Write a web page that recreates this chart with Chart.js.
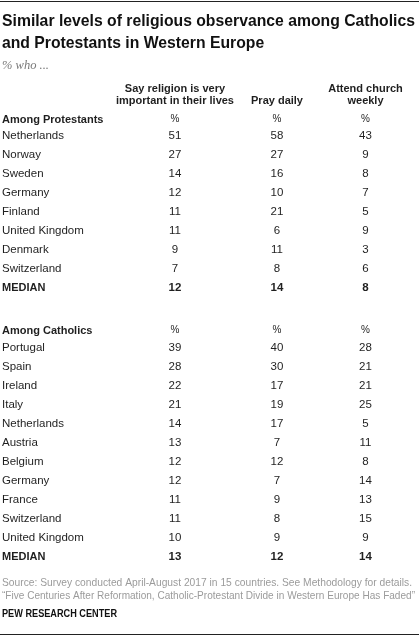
<!DOCTYPE html>
<html>
<head>
<meta charset="utf-8">
<script src="https://cdn.jsdelivr.net/npm/chart.js@4.4.1/dist/chart.umd.min.js"></script>
<style>
  html, body { margin: 0; padding: 0; background: #fff; }
  #wrap { position: relative; width: 419px; height: 637px; }
</style>
</head>
<body>
<div id="wrap"><canvas id="table"></canvas></div>
<script>
// data
const protCountries = ['Netherlands', 'Norway', 'Sweden', 'Germany', 'Finland', 'United Kingdom', 'Denmark', 'Switzerland'];
const protImportant = [51, 27, 14, 12, 11, 11, 9, 7];
const protPray = [58, 27, 16, 10, 21, 6, 11, 8];
const protAttend = [43, 9, 8, 7, 5, 9, 3, 6];
const protMedian = [12, 14, 8];

const cathCountries = ['Portugal', 'Spain', 'Ireland', 'Italy', 'Netherlands', 'Austria', 'Belgium', 'Germany', 'France', 'Switzerland', 'United Kingdom'];
const cathImportant = [39, 28, 22, 21, 14, 13, 12, 12, 11, 11, 10];
const cathPray = [40, 30, 17, 19, 17, 7, 12, 7, 9, 8, 9];
const cathAttend = [28, 21, 21, 25, 5, 11, 8, 14, 13, 15, 9];
const cathMedian = [13, 12, 14];

const columnHeaders = [
    ['Say religion is very', 'important in their lives'],
    ['', 'Pray daily'],
    ['Attend church', 'weekly']
];

// layout
const W = 419, H = 637;
const labelX = 2;
const colX = [175, 277, 365.5];
const rowH = 19;
const sections = [
    { heading: 'Among Protestants', headY: 123, firstY: 139, countries: protCountries, cols: [protImportant, protPray, protAttend], median: protMedian },
    { heading: 'Among Catholics', headY: 334, firstY: 351, countries: cathCountries, cols: [cathImportant, cathPray, cathAttend], median: cathMedian }
];

const ink = '#1f1f1f';
const fontSans = '"Liberation Sans", Arial, sans-serif';

// build datasets: every cell is a point, text is drawn at the point
const datasets = [];
function cellSet(points, texts, font, align, color) {
    datasets.push({ data: points, texts: texts, font: font, align: align, color: color, pointRadius: 0, pointHoverRadius: 0 });
}

sections.forEach(function (s) {
    const n = s.countries.length;
    const rowY = function (i) { return s.firstY + i * rowH; };
    const medianY = rowY(n);

    // heading + % markers
    cellSet([{ x: labelX, y: s.headY }], [s.heading], 'bold 11px ' + fontSans, 'left', ink);
    cellSet(colX.map(function (x) { return { x: x, y: s.headY - 1 }; }), ['%', '%', '%'], '10px ' + fontSans, 'center', ink);

    // country labels
    cellSet(s.countries.map(function (c, i) { return { x: labelX, y: rowY(i) }; }), s.countries, '11.5px ' + fontSans, 'left', ink);

    // values per column
    s.cols.forEach(function (vals, c) {
        cellSet(vals.map(function (v, i) { return { x: colX[c], y: rowY(i) }; }), vals.map(String), '11.5px ' + fontSans, 'center', ink);
    });

    // medians
    cellSet([{ x: labelX, y: medianY }], ['MEDIAN'], 'bold 11px ' + fontSans, 'left', ink);
    cellSet(colX.map(function (x) { return { x: x, y: medianY }; }), s.median.map(String), 'bold 11.5px ' + fontSans, 'center', ink);
});

// draw text at each element position
const cellText = {
    id: 'cellText',
    afterDatasetsDraw: function (chart) {
        const ctx = chart.ctx;
        ctx.save();
        ctx.textBaseline = 'alphabetic';
        chart.data.datasets.forEach(function (ds, di) {
            const meta = chart.getDatasetMeta(di);
            ctx.font = ds.font;
            ctx.fillStyle = ds.color;
            ctx.textAlign = ds.align;
            meta.data.forEach(function (el, i) {
                ctx.fillText(ds.texts[i], el.x, el.y);
            });
        });
        ctx.restore();
    }
};

// write a line squeezed to a given width
function fitText(ctx, text, x, y, width) {
    const w = ctx.measureText(text).width;
    const k = Math.min(1, width / w);
    ctx.save();
    ctx.translate(x, y);
    ctx.scale(k, 1);
    ctx.fillText(text, 0, 0);
    ctx.restore();
    return k;
}

const frame = {
    id: 'frame',
    beforeDraw: function (chart) {
        const ctx = chart.ctx;
        ctx.save();
        ctx.fillStyle = '#fff';
        ctx.fillRect(0, 0, W, H);

        // rules
        ctx.fillStyle = '#222';
        ctx.fillRect(0, 1, W, 1);
        ctx.fillRect(0, 634, W, 1);

        // title
        ctx.textAlign = 'left';
        ctx.textBaseline = 'alphabetic';
        ctx.fillStyle = '#111';
        ctx.font = 'bold 17px ' + fontSans;
        const t1 = 'Similar levels of religious observance among Catholics';
        const k = ctx.measureText(t1).width;
        const sx = Math.min(1, 413 / k);
        [t1, 'and Protestants in Western Europe'].forEach(function (t, i) {
            ctx.save();
            ctx.translate(2, 26 + i * 22);
            ctx.scale(sx, 1);
            ctx.fillText(t, 0, 0);
            ctx.restore();
        });

        // subtitle
        ctx.fillStyle = '#7a7a7a';
        ctx.font = 'italic 12.5px "Liberation Serif", Georgia, serif';
        ctx.fillText('% who ...', 2, 69);

        // column headers
        ctx.fillStyle = ink;
        ctx.font = 'bold 11px ' + fontSans;
        ctx.textAlign = 'center';
        columnHeaders.forEach(function (lines, c) {
            lines.forEach(function (t, i) {
                if (t) ctx.fillText(t, colX[c], 92 + i * 12);
            });
        });

        // notes
        ctx.textAlign = 'left';
        ctx.fillStyle = '#9b9b9b';
        ctx.font = '11px ' + fontSans;
        fitText(ctx, 'Source: Survey conducted April-August 2017 in 15 countries. See Methodology for details.', 2, 586, 410);
        fitText(ctx, '\u201CFive Centuries After Reformation, Catholic-Protestant Divide in Western Europe Has Faded\u201D', 2, 599, 413);
        ctx.fillStyle = '#111';
        ctx.font = 'bold 10.5px ' + fontSans;
        fitText(ctx, 'PEW RESEARCH CENTER', 2, 617, 115);
        ctx.restore();
    }
};

const ctx = document.getElementById('table').getContext('2d');
const tableChart = new Chart(ctx, {
    type: 'scatter',
    data: { datasets: datasets },
    options: {
        responsive: true,
        maintainAspectRatio: false,
        animation: false,
        events: [],
        layout: { padding: 0 },
        scales: {
            x: { type: 'linear', min: 0, max: W, display: false },
            y: { type: 'linear', min: 0, max: H, reverse: true, display: false }
        },
        plugins: {
            legend: { display: false },
            tooltip: { enabled: false },
            title: { display: false }
        }
    },
    plugins: [frame, cellText]
});
</script>
</body>
</html>
